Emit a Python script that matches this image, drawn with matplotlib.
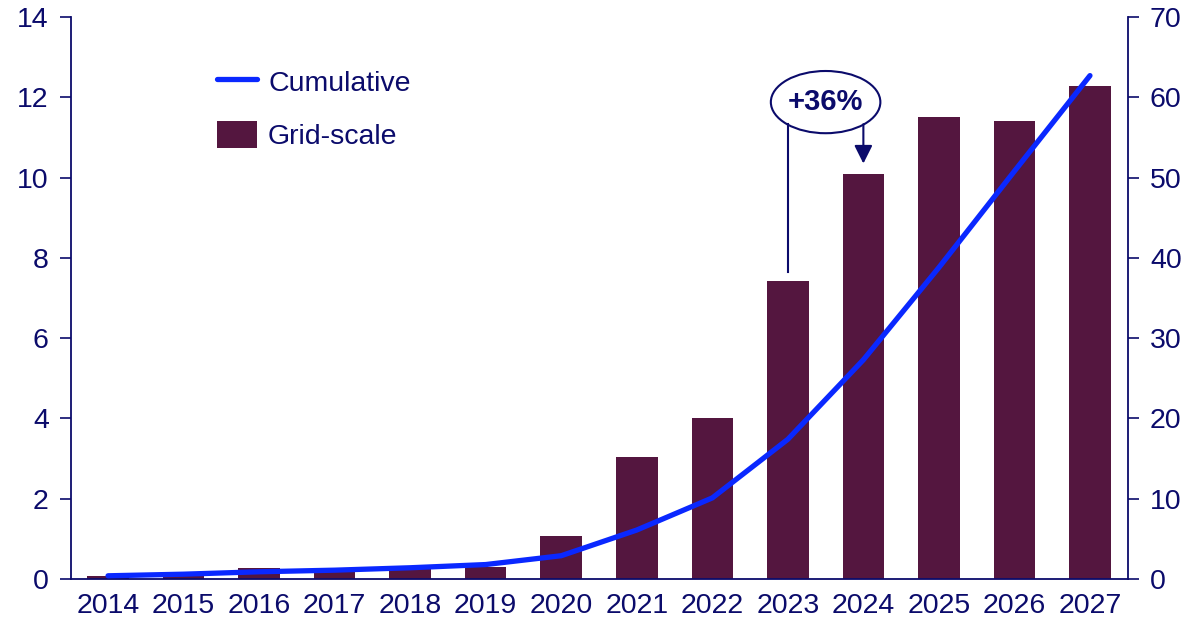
import matplotlib
matplotlib.use("Agg")
import matplotlib.pyplot as plt
from matplotlib.patches import Ellipse
import numpy as np

plt.rcParams['font.family'] = ['Liberation Sans', 'DejaVu Sans']

years = ['2014', '2015', '2016', '2017', '2018', '2019', '2020',
         '2021', '2022', '2023', '2024', '2025', '2026', '2027']
grid_scale = [0.07, 0.15, 0.27, 0.25, 0.28, 0.31, 1.08,
              3.03, 4.02, 7.42, 10.1, 11.5, 11.4, 12.28]
cumulative = [0.4, 0.6, 0.9, 1.1, 1.4, 1.8, 2.9,
              6.1, 10.1, 17.4, 27.3, 38.8, 50.8, 62.7]
growth_label = '+36%'

navy = '#0b0b6b'
bar_col = '#54163f'
line_col = '#0a28ff'
fs = 20.5

fig = plt.figure(figsize=(11.94, 6.25), dpi=100)
ax = fig.add_axes([0.0595, 0.0736, 0.885, 0.8992])
ax2 = ax.twinx()

x = np.arange(len(years))
bars = ax.bar(x, grid_scale, width=0.55, color=bar_col, label='Grid-scale', zorder=2)
line, = ax2.plot(x, cumulative, color=line_col, lw=3.8, solid_capstyle='round',
                 label='Cumulative', zorder=3)

ax.set_xlim(-0.49, 13.5)
ax.set_ylim(0, 14)
ax2.set_ylim(0, 70)
ax.set_yticks(np.arange(0, 15, 2))
ax2.set_yticks(np.arange(0, 71, 10))
ax.set_xticks(x)
ax.set_xticklabels(years)

for a in (ax, ax2):
    for s in a.spines.values():
        s.set_visible(False)
    a.tick_params(colors=navy, labelsize=fs, width=1.2, length=8)
ax.spines['left'].set_visible(True)
ax.spines['bottom'].set_visible(True)
ax2.spines['right'].set_visible(True)
for s in (ax.spines['left'], ax.spines['bottom'], ax2.spines['right']):
    s.set_color(navy)
    s.set_linewidth(1.3)
ax.tick_params(axis='x', length=0, pad=10)
ax.tick_params(axis='y', pad=8)
ax2.tick_params(axis='y', pad=8)

# growth callout between 2023 and 2024
tr = ax.transData
ell = Ellipse((9.5, 11.88), 1.45, 1.55, transform=tr, fc='white', ec=navy,
              lw=1.5, zorder=5)
ax2.add_patch(ell)
ax2.text(9.5, 11.88, growth_label, transform=tr, ha='center', va='center',
         fontsize=21, fontweight='bold', color=navy, zorder=6)
ax2.plot([9.0, 9.0], [11.33, grid_scale[9] + 0.23], transform=tr,
         color=navy, lw=1.5, zorder=5)
ax2.annotate('', xy=(10.0, grid_scale[10] + 0.25), xytext=(10.0, 11.33),
             xycoords=tr, textcoords=tr,
             arrowprops=dict(arrowstyle='-|>,head_length=1.1,head_width=0.55',
                             color=navy, lw=1.5, shrinkA=0, shrinkB=0), zorder=5)

leg = ax2.legend([line, bars], ['Cumulative', 'Grid-scale'], loc='upper left',
                 bbox_to_anchor=(0.138, 0.91), frameon=False, fontsize=fs,
                 handlelength=1.4, handleheight=1.1, handletextpad=0.4,
                 labelspacing=0.85, borderpad=0, borderaxespad=0)
for t in leg.get_texts():
    t.set_color(navy)

fig.savefig('out.png', dpi=100)
